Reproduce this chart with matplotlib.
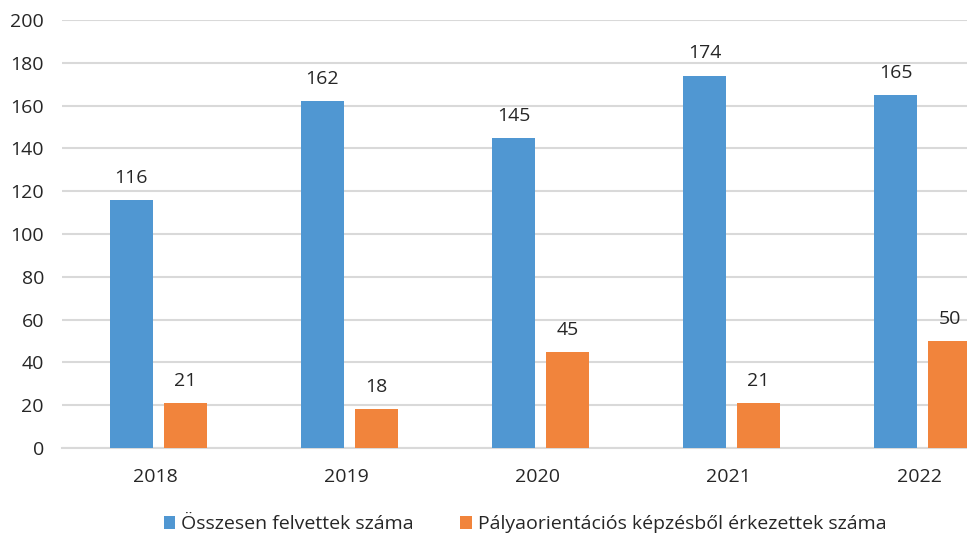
import numpy as np
import matplotlib
matplotlib.use("Agg")
import matplotlib.pyplot as plt

years = ["2018", "2019", "2020", "2021", "2022"]
felvettek = [116, 162, 145, 174, 165]
palyaorientacios = [21, 18, 45, 21, 50]
series_names = ["Összesen felvettek száma", "Pályaorientációs képzésből érkezettek száma"]

BLUE = "#5097D2"
ORANGE = "#F1843C"
TEXT = "#262626"
FS = 14

plt.rcParams["font.family"] = ["Open Sans", "DejaVu Sans"]

fig = plt.figure(figsize=(9.67, 5.34), dpi=100)
ax = fig.add_axes([62 / 967, 86 / 534, 1 - 62 / 967, 428 / 534])

x = np.arange(len(years))
w = 0.223
off = 0.1415
b1 = ax.bar(x - off, felvettek, w, color=BLUE, label=series_names[0], zorder=3)
b2 = ax.bar(x + off, palyaorientacios, w, color=ORANGE, label=series_names[1], zorder=3)
ax.bar_label(b1, padding=9.5, fontsize=FS, color=TEXT)
ax.bar_label(b2, padding=9.5, fontsize=FS, color=TEXT)

ax.set_ylim(0, 200)
ax.set_yticks(range(0, 201, 20))
ax.set_xlim(-0.505, 4.233)
ax.set_xticks(x - 0.018)
ax.set_xticklabels(years)
ax.yaxis.grid(True, color="#d9d9d9", linewidth=1.5, zorder=0)
ax.tick_params(axis="both", length=0, labelsize=FS, labelcolor=TEXT)
ax.tick_params(axis="y", pad=13)
ax.tick_params(axis="x", pad=14.5)
for s in ax.spines.values():
    s.set_visible(False)
ax.spines["bottom"].set_visible(True)
ax.spines["bottom"].set_color("#d9d9d9")
ax.spines["bottom"].set_linewidth(1.5)

fig.legend(loc="center", bbox_to_anchor=(525 / 967, 1 - 524 / 534), ncol=2, frameon=False,
           fontsize=FS, handlelength=0.6, handleheight=0.65, handletextpad=0.3,
           columnspacing=2.4, labelcolor=TEXT, borderpad=0)

fig.savefig("out.png", dpi=100)
